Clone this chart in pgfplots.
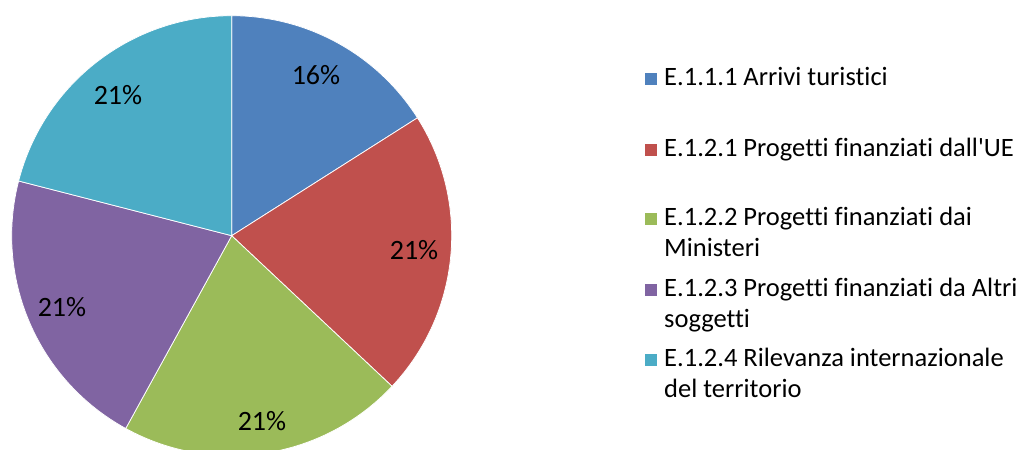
\documentclass[border=0pt]{standalone}
\usepackage{pgfplots}
\usepackage{pgfplotstable}
\pgfplotsset{compat=1.18}
\usepackage{fontspec}
\setmainfont{Carlito}[Ligatures={NoCommon}]
% no TeX mapping, so ' stays straight
\newfontfamily\legfont{Carlito}[Ligatures={NoCommon}]

\definecolor{c1}{HTML}{4F81BD}
\definecolor{c2}{HTML}{C0504D}
\definecolor{c3}{HTML}{9BBB59}
\definecolor{c4}{HTML}{8064A2}
\definecolor{c5}{HTML}{4BACC6}

% share (%), label position (px, y from bottom), colour
\pgfplotstableread{
pct lx  ly  col
16  316 375 c1
21  414 200 c2
21  262 29  c3
21  62  143 c4
21  118 355 c5
}\piedata

\begin{document}
\begin{tikzpicture}
\begin{axis}[
    x=1pt, y=1pt,
    xmin=0, xmax=1026, ymin=0, ymax=450,
    hide axis, clip=false,
]
\coordinate (ll) at (axis cs:0,0);
\coordinate (ur) at (axis cs:1026,450);

% slices, clockwise from 12 o'clock
\def\cum{0}
\pgfplotsforeachungrouped \i in {0,...,4}{%
    \pgfplotstablegetelem{\i}{pct}\of\piedata \let\p\pgfplotsretval
    \pgfplotstablegetelem{\i}{col}\of\piedata \let\c\pgfplotsretval
    \pgfmathsetmacro{\sa}{90-3.6*\cum}
    \pgfmathsetmacro{\ea}{90-3.6*(\cum+\p)}
    \edef\temp{\noexpand\fill[\c, draw=white, line width=0.75pt]
        (axis cs:231.7,214.3) -- ++(\sa:220pt)
        arc[start angle=\sa, end angle=\ea, radius=220pt] -- cycle;}
    \temp
    \pgfmathsetmacro{\cum}{\cum+\p}
}

% percentage labels
\addplot[draw=none, mark=none,
    point meta=explicit symbolic,
    nodes near coords={\pgfplotspointmeta\%},
    nodes near coords align=center,
    every node near coord/.append style={font=\fontsize{28}{33}\selectfont, inner sep=0pt, anchor=center},
] table[x=lx, y=ly, meta=pct] {\piedata};

% legend
\tikzset{leg/.style={anchor=base west, inner sep=0pt, font=\legfont\fontsize{26.5}{31}\selectfont}}
\fill[c1] (axis cs:645,365) rectangle (axis cs:657,377);
\node[leg] at (axis cs:664,364) {E.1.1.1 Arrivi turistici};
\fill[c2] (axis cs:645,294) rectangle (axis cs:657,306);
\node[leg] at (axis cs:664,293) {E.1.2.1 Progetti finanziati dall'UE};
\fill[c3] (axis cs:645,225) rectangle (axis cs:657,237);
\node[leg] at (axis cs:664,224) {E.1.2.2 Progetti finanziati dai};
\node[leg] at (axis cs:664,193) {Ministeri};
\fill[c4] (axis cs:645,154) rectangle (axis cs:657,166);
\node[leg] at (axis cs:664,153) {E.1.2.3 Progetti finanziati da Altri};
\node[leg] at (axis cs:664,122) {soggetti};
\fill[c5] (axis cs:645,84) rectangle (axis cs:657,96);
\node[leg] at (axis cs:664,83) {E.1.2.4 Rilevanza internazionale};
\node[leg] at (axis cs:664,52) {del territorio};
\end{axis}
\pgfresetboundingbox
\path[use as bounding box] (ll) rectangle (ur);
\end{tikzpicture}
\end{document}
